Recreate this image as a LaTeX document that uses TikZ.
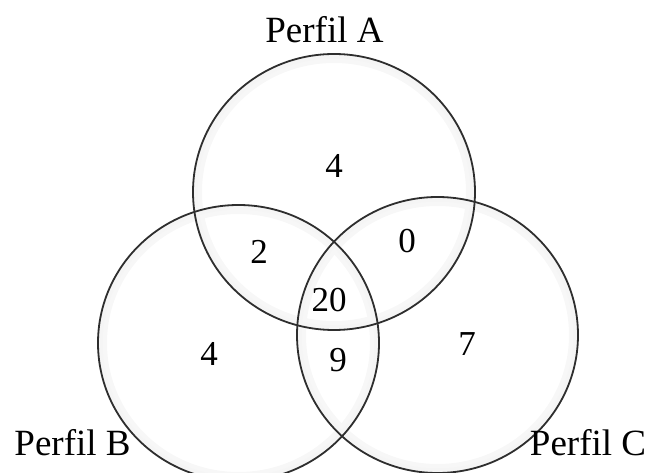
\documentclass[tikz,border=0pt]{standalone}
\usepackage{fontspec}
\setmainfont{Liberation Serif}
\begin{document}
\begin{tikzpicture}[x=1pt,y=-1pt,
  setring/.style={draw=black!82,line width=1.8pt},
  setglow/.style={draw=black!3,line width=8pt},
  setglowin/.style={draw=black!4,line width=4pt},
  setlabel/.style={inner sep=0pt,anchor=base,font=\fontsize{37}{40}\selectfont},
  count/.style={inner sep=0pt,anchor=center,font=\fontsize{35}{40}\selectfont}]
  \useasboundingbox (0,0) rectangle (649,473);
  % centres of the three sets
  \coordinate (cA) at (334,192);
  \coordinate (cB) at (238.5,343);
  \coordinate (cC) at (437.5,335);
  % soft shading just inside each outline, fading inwards
  \draw[setglow] (cA) ellipse [x radius=136, y radius=133];
  \draw[setglow] (cB) ellipse [x radius=135.5, y radius=133];
  \draw[setglow] (cC) ellipse [x radius=135.5, y radius=133];
  \draw[setglowin] (cA) ellipse [x radius=138.5, y radius=135.5];
  \draw[setglowin] (cB) ellipse [x radius=138, y radius=135.5];
  \draw[setglowin] (cC) ellipse [x radius=138, y radius=135.5];
  % set outlines
  \draw[setring] (cA) ellipse [x radius=141, y radius=138];
  \draw[setring] (cB) ellipse [x radius=140.5, y radius=138];
  \draw[setring] (cC) ellipse [x radius=140.5, y radius=138];
  % set names
  \node[setlabel] (lA) at (324.5,43) {Perfil A};
  \node[setlabel] (lB) at (72.5,456) {Perfil B};
  \node[setlabel] (lC) at (588,456) {Perfil C};
  % region counts
  \node[count] (nA)   at (334,166) {4};
  \node[count] (nAB)  at (259,252) {2};
  \node[count] (nAC)  at (407,241) {0};
  \node[count] (nABC) at (329,300) {20};
  \node[count] (nB)   at (209,354) {4};
  \node[count] (nBC)  at (338,360) {9};
  \node[count] (nC)   at (467,344) {7};
\end{tikzpicture}
\end{document}
